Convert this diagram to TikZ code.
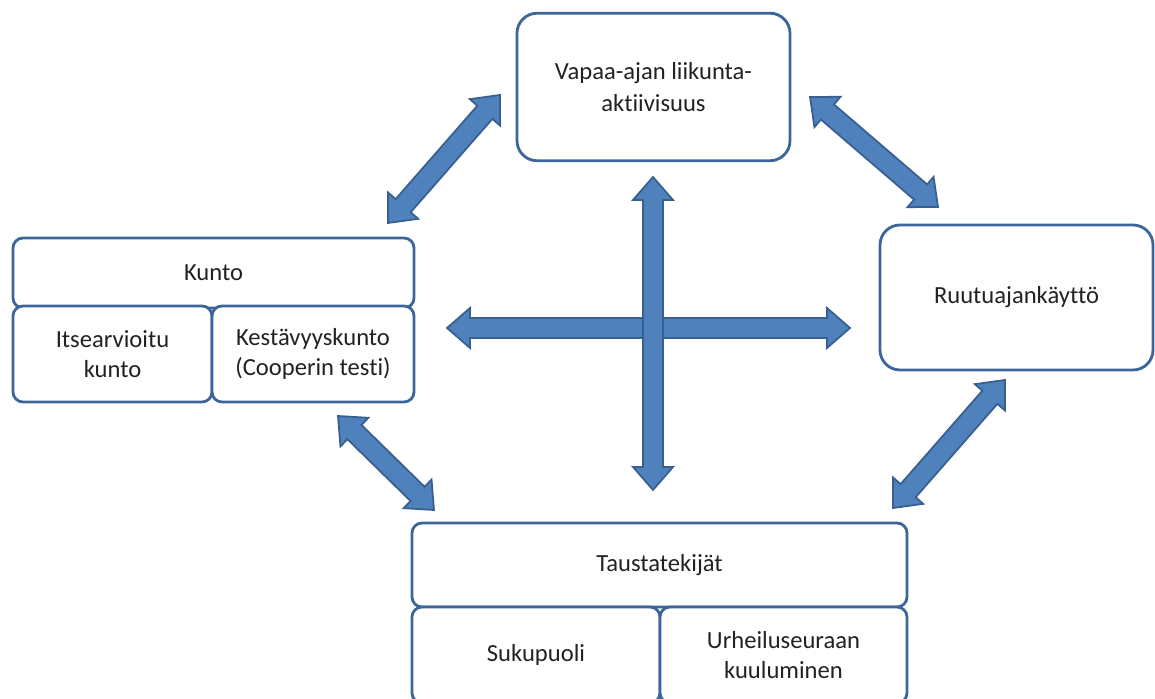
\documentclass[tikz,border=0pt]{standalone}
\usepackage{fontspec}
\setmainfont{Carlito}[Ligatures={NoCommon}]
\usetikzlibrary{calc}

\definecolor{frameBlue}{HTML}{3C6699}
\definecolor{arrowFill}{HTML}{4F81BD}
\definecolor{arrowEdge}{HTML}{385F8F}
\definecolor{textGray}{HTML}{222222}

% fat two-headed arrow between two named coordinates
\newcommand{\twoWayArrow}[2]{%
  \pgfmathanglebetweenpoints{\pgfpointanchor{#1}{center}}{\pgfpointanchor{#2}{center}}%
  \let\arrAng\pgfmathresult
  \filldraw[fatArrow]
    (#1) -- ($(#1)+(\arrAng:0.46)+(\arrAng+90:0.4)$)
         -- ($(#1)+(\arrAng:0.46)+(\arrAng+90:0.2)$)
         -- ($(#2)-(\arrAng:0.46)+(\arrAng+90:0.2)$)
         -- ($(#2)-(\arrAng:0.46)+(\arrAng+90:0.4)$)
         -- (#2)
         -- ($(#2)-(\arrAng:0.46)-(\arrAng+90:0.4)$)
         -- ($(#2)-(\arrAng:0.46)-(\arrAng+90:0.2)$)
         -- ($(#1)+(\arrAng:0.46)-(\arrAng+90:0.2)$)
         -- ($(#1)+(\arrAng:0.46)-(\arrAng+90:0.4)$)
         -- cycle;
}

\begin{document}
\begin{tikzpicture}[
    bigBox/.style={rectangle, draw=frameBlue, fill=white, line width=1.6pt, rounded corners=0.4cm,
        minimum width=5.46cm, minimum height=2.95cm, align=center, inner sep=0pt,
        text=textGray, font=\fontsize{14}{18}\selectfont},
    partBox/.style={rectangle, draw=frameBlue, fill=white, line width=1.6pt, rounded corners=0.2cm,
        align=center, inner sep=0pt, text=textGray, font=\fontsize{14}{17}\selectfont},
    fatArrow/.style={fill=arrowFill, draw=arrowEdge, line width=1pt}
]

    \clip (0,0) rectangle (23.1,13.98);

    % --- MAIN BOXES ---
    \node[bigBox] (vapaa) at (13.07,12.24) {Vapaa-ajan liikunta-\\aktiivisuus};
    \node[bigBox, minimum height=2.9cm] (ruutu) at (20.33,8.03) {Ruutuajankäyttö};

    % --- KUNTO GROUP ---
    \node[partBox, minimum width=8.02cm, minimum height=1.40cm] (kunto) at (4.27,8.52) {Kunto};
    \node[partBox, minimum width=3.98cm, minimum height=1.92cm] (itse) at (2.25,6.90) {Itsearvioitu\\kunto};
    \node[partBox, minimum width=4.04cm, minimum height=1.92cm] (kesto) at (6.26,6.90) {Kestävyyskunto\\(Cooperin testi)};

    % --- TAUSTATEKIJÄT GROUP ---
    \node[partBox, minimum width=9.90cm, minimum height=1.68cm] (tausta) at (13.19,2.68) {Taustatekijät};
    \node[partBox, minimum width=4.96cm, minimum height=1.92cm] (suku) at (10.72,0.88) {Sukupuoli};
    \node[partBox, minimum width=4.94cm, minimum height=1.92cm] (seura) at (15.67,0.88) {Urheiluseuraan\\kuuluminen};

    % --- ARROW ENDS ---
    \coordinate (kuntoUp) at (7.76,9.52);
    \coordinate (vapaaLeft) at (10.00,12.08);
    \coordinate (vapaaRight) at (16.20,12.04);
    \coordinate (ruutuUp) at (18.76,9.84);
    \coordinate (ruutuDown) at (20.10,6.38);
    \coordinate (taustaRight) at (17.86,3.82);
    \coordinate (kuntoDown) at (6.76,5.66);
    \coordinate (taustaLeft) at (8.68,3.78);
    \coordinate (crossW) at (8.94,7.42);
    \coordinate (crossE) at (17.00,7.42);
    \coordinate (crossN) at (13.06,10.44);
    \coordinate (crossS) at (13.06,4.18);

    % --- ARROWS ---
    \twoWayArrow{kuntoUp}{vapaaLeft}
    \twoWayArrow{vapaaRight}{ruutuUp}
    \twoWayArrow{ruutuDown}{taustaRight}
    \twoWayArrow{kuntoDown}{taustaLeft}

    % the cross in the middle
    \twoWayArrow{crossW}{crossE}
    \twoWayArrow{crossN}{crossS}

\end{tikzpicture}
\end{document}
